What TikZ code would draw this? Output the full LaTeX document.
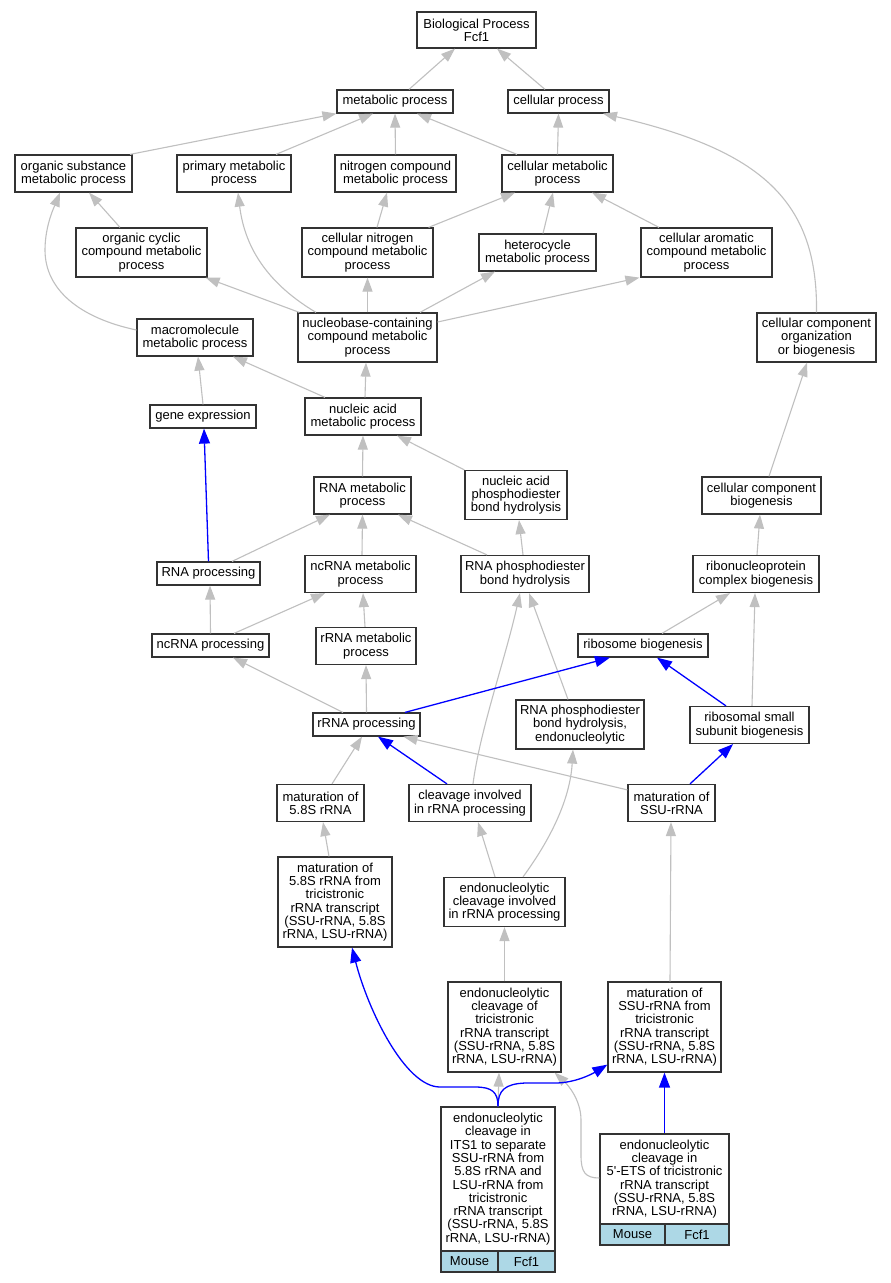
\documentclass[tikz,border=0pt]{standalone}
\usepackage{fontspec}
\setmainfont{Liberation Sans}
\usetikzlibrary{arrows.meta}
\definecolor{edgegray}{HTML}{C0C0C0}
\definecolor{cellblue}{HTML}{ADD8E6}
\definecolor{edgeblue}{HTML}{0000FF}
\definecolor{boxline}{HTML}{333333}
\tikzset{
  box/.style={draw=boxline, line width=1.2pt, fill=white, align=center, inner sep=0pt,
    font=\fontsize{13}{13.3}\selectfont},
  cell/.style={box, fill=cellblue},
  wh/.style 2 args={minimum width=#1pt, minimum height=#2pt},
  g/.style={draw=edgegray, color=edgegray, line width=1.1pt, -{Triangle[length=14pt,width=10pt]}},
  b/.style={draw=edgeblue, color=edgeblue, line width=1.3pt, -{Triangle[length=15pt,width=11pt]}}
}
\begin{document}
\begin{tikzpicture}[x=1pt,y=-1pt]
\fill[white] (0,0) rectangle (891,1283);
\useasboundingbox (0,0) rectangle (891,1283);

\node[box, wh={119}{36}] (bp) at (476.5,30) {Biological Process\\Fcf1};
\node[box, wh={116}{23}] (meta) at (395,101.5) {metabolic process};
\node[box, wh={101}{23}] (cellp) at (558.5,101.5) {cellular process};
\node[box, wh={117}{37}] (orgsub) at (73.5,173.5) {organic substance\\metabolic process};
\node[box, wh={114}{37}] (prim) at (234,173.5) {primary metabolic\\process};
\node[box, wh={121}{37}] (nitro) at (395.5,173.5) {nitrogen compound\\metabolic process};
\node[box, wh={111}{37}] (cellmeta) at (557.5,173.5) {cellular metabolic\\process};
\node[box, wh={131}{49}] (orgcyc) at (141.5,252.5) {organic cyclic\\compound metabolic\\process};
\node[box, wh={131}{49}] (cellnit) at (367.5,252.5) {cellular nitrogen\\compound metabolic\\process};
\node[box, wh={117}{37}] (hetero) at (537.5,252.5) {heterocycle\\metabolic process};
\node[box, wh={131}{49}] (cellarom) at (706.5,252.5) {cellular aromatic\\compound metabolic\\process};
\node[box, wh={116}{37}] (macro) at (195,337.5) {macromolecule\\metabolic process};
\node[box, wh={139}{49}] (nucbase) at (367.5,337.5) {nucleobase-containing\\compound metabolic\\process};
\node[box, wh={119}{49}] (ccorg) at (816.5,337.5) {cellular component\\organization\\or biogenesis};
\node[box, wh={106}{23}] (geneexp) at (203,416.5) {gene expression};
\node[box, wh={116}{37}] (nucacid) at (363,416.5) {nucleic acid\\metabolic process};
\node[box, wh={97}{37}] (rnameta) at (362.5,495.5) {RNA metabolic\\process};
\node[box, wh={102}{49}] (nucphos) at (516,495) {nucleic acid\\phosphodiester\\bond hydrolysis};
\node[box, wh={119}{37}] (ccbio) at (761.5,495.5) {cellular component\\biogenesis};
\node[box, wh={103}{23}] (rnaproc) at (208.5,573.5) {RNA processing};
\node[box, wh={111}{37}] (ncrnameta) at (360.5,574) {ncRNA metabolic\\process};
\node[box, wh={128}{37}] (rnaphos) at (525,574) {RNA phosphodiester\\bond hydrolysis};
\node[box, wh={126}{37}] (ribonuc) at (756,574) {ribonucleoprotein\\complex biogenesis};
\node[box, wh={117}{23}] (ncrnaproc) at (210.5,645.5) {ncRNA processing};
\node[box, wh={100}{37}] (rrnameta) at (366,646) {rRNA metabolic\\process};
\node[box, wh={130}{23}] (ribobio) at (643,645.5) {ribosome biogenesis};
\node[box, wh={107}{23}] (rrnaproc) at (366.5,724.5) {rRNA processing};
\node[box, wh={128}{49}] (rnaphosendo) at (580,724.5) {RNA phosphodiester\\bond hydrolysis,\\endonucleolytic};
\node[box, wh={119}{37}] (rssu) at (749.5,725) {ribosomal small\\subunit biogenesis};
\node[box, wh={87}{37}] (mat58) at (320.5,803) {maturation of\\5.8S rRNA};
\node[box, wh={122}{37}] (cleav) at (470,803) {cleavage involved\\in rRNA processing};
\node[box, wh={87}{37}] (matssu) at (671.5,803) {maturation of\\SSU-rRNA};
\node[box, wh={114}{90}] (mat58tri) at (335,902) {maturation of\\5.8S rRNA from\\tricistronic\\rRNA transcript\\(SSU-rRNA, 5.8S\\rRNA, LSU-rRNA)};
\node[box, wh={121}{49}] (endoinv) at (504.5,902) {endonucleolytic\\cleavage involved\\in rRNA processing};
\node[box, wh={113}{90}] (endotri) at (504.5,1027) {endonucleolytic\\cleavage of\\tricistronic\\rRNA transcript\\(SSU-rRNA, 5.8S\\rRNA, LSU-rRNA)};
\node[box, wh={113}{90}] (matssutri) at (664.5,1027) {maturation of\\SSU-rRNA from\\tricistronic\\rRNA transcript\\(SSU-rRNA, 5.8S\\rRNA, LSU-rRNA)};
\node[box, wh={114}{144}] (its1) at (498,1179) {endonucleolytic\\cleavage in\\ITS1 to separate\\SSU-rRNA from\\5.8S rRNA and\\LSU-rRNA from\\tricistronic\\rRNA transcript\\(SSU-rRNA, 5.8S\\rRNA, LSU-rRNA)};
\node[cell, wh={57}{21}] (its1m) at (469.5,1261.5) {Mouse};
\node[cell, wh={57}{21}] (its1f) at (526.5,1261.5) {Fcf1};
\node[box, wh={129}{90}] (ets) at (664.5,1179) {endonucleolytic\\cleavage in\\5\textquotesingle-ETS of tricistronic\\rRNA transcript\\(SSU-rRNA, 5.8S\\rRNA, LSU-rRNA)};
\node[cell, wh={65}{21}] (etsm) at (632.5,1234.5) {Mouse};
\node[cell, wh={64}{21}] (etsf) at (697,1234.5) {Fcf1};

% gray edges
\draw[g] ([xshift=14pt]meta.north) -- ([xshift=-21.5pt]bp.south);
\draw[g] ([xshift=-13.5pt]cellp.north) -- ([xshift=20.5pt]bp.south);
\draw[g] ([xshift=56.5pt]orgsub.north) -- (meta.south west);
\draw[g] ([xshift=42pt]prim.north) -- ([xshift=-22pt]meta.south);
\draw[g] (nitro.north) -- (meta.south);
\draw[g] ([xshift=-40.5pt]cellmeta.north) -- ([xshift=22pt]meta.south);
\draw[g] (cellmeta.north) -- (cellp.south);
\draw[g] (ccorg.north) .. controls (818,200) and (760,150) .. ([xshift=44.5pt]cellp.south);
\draw[g] ([xshift=-21.5pt]orgcyc.north) -- ([xshift=15.5pt]orgsub.south);
\draw[g] ([yshift=7.5pt]macro.west) .. controls (80,318) and (45,290) .. (45,250) .. controls (45,225) and (55,205) .. ([xshift=-13.5pt]orgsub.south);
\draw[g] ([xshift=-51.5pt]nucbase.north) .. controls (270,285) and (245,250) .. ([xshift=4pt]prim.south);
\draw[g] ([xshift=2pt]nucbase.north west) -- ([xshift=-2pt]orgcyc.south east);
\draw[g] (nucbase.north) -- (cellnit.south);
\draw[g] ([xshift=52.5pt]nucbase.north) -- ([xshift=-42.5pt]hetero.south);
\draw[g] ([yshift=15.5pt]nucbase.east) -- ([xshift=-1pt]cellarom.south west);
\draw[g] ([xshift=-5pt]cellnit.north east) -- ([xshift=-42.5pt]cellmeta.south);
\draw[g] ([xshift=9.5pt]cellnit.north) -- ([xshift=-8.5pt]nitro.south);
\draw[g] ([xshift=5.5pt]hetero.north) -- ([xshift=-4.5pt]cellmeta.south);
\draw[g] ([xshift=-47.5pt]cellarom.north) -- ([xshift=34.5pt]cellmeta.south);
\draw[g] (geneexp.north) -- ([xshift=3pt]macro.south);
\draw[g] ([xshift=-38pt]nucacid.north) -- ([xshift=38pt]macro.south);
\draw[g] ([xshift=2pt]nucacid.north) -- ([xshift=-1.5pt]nucbase.south);
\draw[g] (rnameta.north) -- (nucacid.south);
\draw[g] (nucphos.north west) -- ([xshift=34pt]nucacid.south);
\draw[g] ([xshift=23.5pt]rnaproc.north) -- ([xshift=-32.5pt]rnameta.south);
\draw[g] ([xshift=1.5pt]ncrnameta.north) -- (rnameta.south);
\draw[g] ([xshift=-38pt]rnaphos.north) -- ([xshift=35.5pt]rnameta.south);
\draw[g] ([xshift=-2pt]rnaphos.north) -- ([xshift=3pt]nucphos.south);
\draw[g] ([xshift=7.5pt]ccbio.north) -- ([xshift=-9.5pt]ccorg.south);
\draw[g] ([xshift=1pt]ribonuc.north) -- ([xshift=-1.5pt]ccbio.south);
\draw[g] (ncrnaproc.north) -- ([xshift=1.5pt]rnaproc.south);
\draw[g] ([xshift=23.5pt]ncrnaproc.north) -- ([xshift=-35.5pt]ncrnameta.south);
\draw[g] ([xshift=-1pt]rrnameta.north) -- ([xshift=2.5pt]ncrnameta.south);
\draw[g] ([xshift=19pt]ribobio.north) -- ([xshift=-26pt]ribonuc.south);
\draw[g] ([xshift=2.5pt]rssu.north) -- ([xshift=-1pt]ribonuc.south);
\draw[g] ([xshift=-23.5pt]rrnaproc.north) -- ([xshift=22.5pt]ncrnaproc.south);
\draw[g] (rrnaproc.north) -- (rrnameta.south);
\draw[g] ([xshift=11.5pt]mat58.north) -- ([xshift=-4.5pt]rrnaproc.south);
\draw[g] ([yshift=-6pt]matssu.north west) -- ([xshift=37pt]rrnaproc.south);
\draw[g] ([xshift=3pt]cleav.north) .. controls (480,730) and (505,660) .. ([xshift=-5pt]rnaphos.south);
\draw[g] ([xshift=-12pt]rnaphosendo.north) -- ([xshift=4pt]rnaphos.south);
\draw[g] ([xshift=-6pt]mat58tri.north) -- ([xshift=2.5pt]mat58.south);
\draw[g] ([xshift=-9.5pt]endoinv.north) -- ([xshift=8pt]cleav.south);
\draw[g] ([xshift=18.5pt]endoinv.north) .. controls (550,840) and (570,800) .. ([xshift=-7pt]rnaphosendo.south);
\draw[g] (endotri.north) -- (endoinv.south);
\draw[g] ([xshift=5.5pt]matssutri.north) -- ([xshift=-0.5pt]matssu.south);
\draw[g] (its1.north) -- ([xshift=-5.5pt]endotri.south);
\draw[g] ([yshift=1pt]ets.west) .. controls (585,1178) and (581,1172) .. (581,1155) -- (581,1120) .. controls (581,1100) and (568,1085) .. ([xshift=-7pt]endotri.south east);

% blue edges
\draw[b] (rnaproc.north) -- ([xshift=1pt]geneexp.south);
\draw[b] ([xshift=38.5pt]rrnaproc.north) -- ([xshift=-33pt]ribobio.south);
\draw[b] ([xshift=-23.5pt]rssu.north) -- ([xshift=14pt]ribobio.south);
\draw[b] ([xshift=-23pt]cleav.north) -- ([xshift=11.5pt]rrnaproc.south);
\draw[b] ([xshift=18.5pt]matssu.north) -- ([xshift=-16.5pt]rssu.south);
\draw[b] (its1.north) .. controls (498,1092) and (492,1087) .. (475,1087) -- (440,1087) .. controls (405,1087) and (368,1010) .. ([xshift=17pt]mat58tri.south);
\draw[b] (its1.north) .. controls (498,1090) and (505,1084) .. (525,1083) -- (555,1083) .. controls (575,1083) and (592,1074) .. ([yshift=8pt]matssutri.south west);
\draw[b] (ets.north) -- (matssutri.south);
\end{tikzpicture}
\end{document}
